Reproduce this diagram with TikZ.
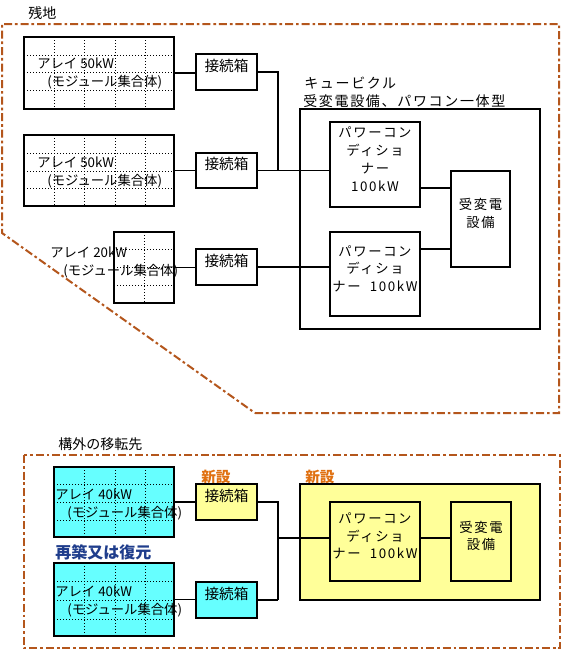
\documentclass[tikz,border=0pt]{standalone}
\usepackage{fontspec}
\setmainfont{Noto Sans CJK JP}
\newfontfamily\pcsfont[LetterSpace=12]{Noto Sans CJK JP}
\usetikzlibrary{fit}
\definecolor{bnd}{HTML}{B4561C}
\definecolor{cyanfill}{HTML}{66FFFF}
\definecolor{yel}{HTML}{FFFF99}
\definecolor{neworange}{HTML}{E07010}
\definecolor{navy}{HTML}{1F3D8C}
\tikzset{
  boundary/.style={draw=bnd, line width=1.5pt, dash pattern=on 6pt off 2.2pt on 2pt off 2.2pt},
  arraybox/.style={draw, line width=0.9pt, inner sep=0pt},
  gridl/.style={line width=0.6pt, dash pattern=on 0.75pt off 1.5pt},
  jbox/.style={draw, line width=0.9pt, inner sep=0pt, font=\fontsize{11}{13}\selectfont},
  cub/.style={draw, line width=2.2pt, inner sep=0pt},
  pcs/.style={draw, line width=0.9pt, inner sep=0pt, align=center, font=\pcsfont\fontsize{10}{13.3}\selectfont},
  wire/.style={line width=0.8pt},
  lbl/.style={anchor=west, inner sep=0pt, font=\fontsize{10}{12}\selectfont},
  ttl/.style={anchor=west, inner sep=0pt, font=\pcsfont\fontsize{10.5}{13}\selectfont},
  newlbl/.style={anchor=west, inner sep=0pt, text=neworange, font=\fontsize{11}{13}\selectfont\bfseries},
}
\begin{document}
\begin{tikzpicture}[x=0.75pt, y=-0.75pt]
\path[use as bounding box, fill=white] (0,0) rectangle (564,657);

% ---------- upper site ----------
\draw[boundary] (255,413) -- (559,413) -- (559,24) -- (2,24) -- (2,233) -- cycle;
\node[anchor=west, inner sep=0pt, font=\fontsize{10.5}{12}\selectfont] (zanchi) at (28,13) {残地};

% arrays
\node[arraybox, fit={(24,37) (174,109)}] (A1) {};
\foreach \x in {54,84,115,145} \draw[gridl] (\x,37) -- (\x,109);
\foreach \y in {55,72,90} \draw[gridl] (24,\y) -- (174,\y);
\node[lbl] (A1t1) at (37,63) {アレイ 50kW};
\node[lbl] (A1t2) at (47,82) {(モジュール集合体)};

\node[arraybox, fit={(24,135) (174,206)}] (A2) {};
\foreach \x in {54,84,115,145} \draw[gridl] (\x,135) -- (\x,206);
\foreach \y in {153,171,188} \draw[gridl] (24,\y) -- (174,\y);
\node[lbl] (A2t1) at (37,162) {アレイ 50kW};
\node[lbl] (A2t2) at (47,181) {(モジュール集合体)};

\node[arraybox, fit={(114,232) (174,303)}] (A3) {};
\draw[gridl] (144,232) -- (144,303);
\foreach \y in {249,267,285} \draw[gridl] (114,\y) -- (174,\y);
\node[lbl] (A3t1) at (50,252) {アレイ 20kW};
\node[lbl] (A3t2) at (63,271) {(モジュール集合体)};

% junction boxes
\node[jbox, fit={(196,54) (257,90)}] (J1) {接続箱};
\node[jbox, fit={(196,153) (257,188)}] (J2) {接続箱};
\node[jbox, fit={(196,249) (257,285)}] (J3) {接続箱};

% cubicle
\node[ttl] (cubt1) at (304,83) {キュービクル};
\node[ttl] (cubt2) at (303,101) {受変電設備、パワコン一体型};
\node[cub, fit={(300,109) (540,329)}] (C1) {};
\node[pcs, fit={(330,122) (420,207)}] (P1) {パワーコン\\ディショ\\ナー\\100kW};
\node[pcs, fit={(330,232) (420,316)}] (P2) {パワーコン\\ディショ\\ナー\ \ 100kW};
\node[pcs, fit={(451,171) (510,267)}] (R1) {受変電\\設備};

% wiring upper
\coordinate (m1) at (278,171);
\coordinate (r1) at (0,188);
\coordinate (r2) at (0,249);
\draw[wire] (A1.east) -- (A1.east -| J1.west);
\draw[wire] (A2.east) -- (A2.east -| J2.west);
\draw[wire] (A3.east) -- (A3.east -| J3.west);
\draw[wire] (J1.east) -| (m1);
\draw[wire] (J2.east) -- (J2.east -| P1.west);
\draw[wire] (J3.east) -- (J3.east -| P2.west);
\draw[wire] (P1.east |- r1) -- (R1.west |- r1);
\draw[wire] (P2.east |- r2) -- (R1.west |- r2);

% ---------- relocation site ----------
\draw[boundary] (24,455) rectangle (560,648);
\node[anchor=west, inner sep=0pt, font=\fontsize{10.5}{12}\selectfont] (kogai) at (58,444) {構外の移転先};

\node[arraybox, fill=cyanfill, fit={(54,467) (174,537)}] (A4) {};
\foreach \x in {84,115,145} \draw[gridl] (\x,467) -- (\x,537);
\foreach \y in {484,502,520} \draw[gridl] (54,\y) -- (174,\y);
\node[lbl] (A4t1) at (55,494) {アレイ 40kW};
\node[lbl] (A4t2) at (67,513) {(モジュール集合体)};

\node[anchor=west, inner sep=0pt, text=navy, font=\fontsize{12}{14}\selectfont\bfseries] (saichiku) at (55,552) {再築又は復元};

\node[arraybox, fill=cyanfill, fit={(54,563) (174,636)}] (A5) {};
\foreach \x in {84,115,145} \draw[gridl] (\x,563) -- (\x,636);
\foreach \y in {581,600,619} \draw[gridl] (54,\y) -- (174,\y);
\node[lbl] (A5t1) at (55,591) {アレイ 40kW};
\node[lbl] (A5t2) at (67,610) {(モジュール集合体)};

\node[newlbl] (new1) at (201,477) {新設};
\node[jbox, fill=yel, fit={(196,484) (257,520)}] (J4) {接続箱};
\node[jbox, fill=cyanfill, fit={(196,582) (257,618)}] (J5) {接続箱};

\node[newlbl] (new2) at (305,477) {新設};
\node[cub, fill=yel, fit={(300,484) (540,600)}] (C2) {};
\node[pcs, fill=yel, fit={(330,502) (420,581)}] (P3) {パワーコン\\ディショ\\ナー\ \ 100kW};
\node[pcs, fill=yel, fit={(451,502) (511,581)}] (R2) {受変電\\設備};

% wiring lower
\coordinate (m2) at (278,538);
\coordinate (m3) at (278,600);
\draw[wire] (A4.east) -- (A4.east -| J4.west);
\draw[wire] (A5.east) -- (A5.east -| J5.west);
\draw[wire] (J4.east) -| (m3);
\draw[wire] (J5.east) -- (m3);
\draw[wire] (m2) -- (m2 -| P3.west);
\draw[wire] (P3.east |- m2) -- (R2.west |- m2);
\end{tikzpicture}
\end{document}
